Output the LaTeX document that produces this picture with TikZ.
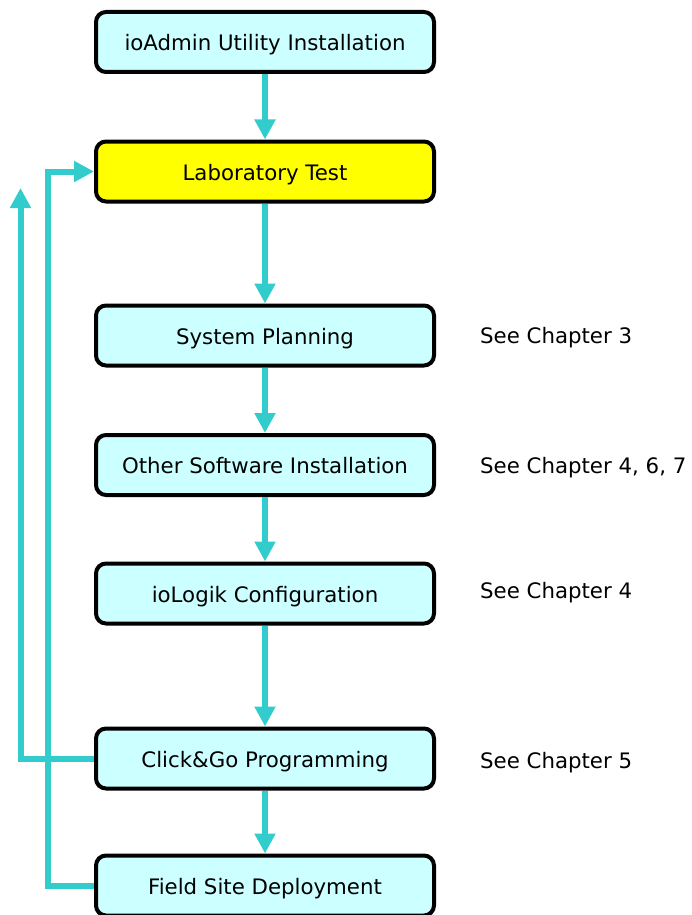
\documentclass[tikz,border=0pt]{standalone}
\usepackage{fontspec}
\setmainfont{DejaVu Sans}
\usetikzlibrary{arrows.meta}
\definecolor{flowcyan}{RGB}{51,204,204}
\definecolor{boxfill}{RGB}{204,255,255}
\definecolor{hiyellow}{RGB}{255,255,0}
\begin{document}
\begin{tikzpicture}[x=1pt,y=-1pt,
  box/.style={draw=black,line width=4pt,rounded corners=10pt,fill=boxfill,
    minimum width=338pt,minimum height=60pt,inner sep=0pt,
    text height=17pt,text depth=0pt,
    font=\fontsize{21.3}{26}\selectfont},
  note/.style={anchor=west,inner sep=0pt,text height=17pt,text depth=0pt,
    font=\fontsize{21.3}{26}\selectfont},
  flow/.style={draw=flowcyan,line width=6pt,
    -{Triangle[width=20pt,length=20pt]}}]
\useasboundingbox (0,0) rectangle (692,915);
\node[box] (b1) at (265,42) {ioAdmin Utility Installation};
\node[box,fill=hiyellow] (b2) at (265,171.5) {Laboratory Test};
\node[box] (b3) at (265,335.5) {System Planning};
\node[box] (b4) at (265,465) {Other Software Installation};
\node[box] (b5) at (265,593.5) {ioLogik Configuration};
\node[box] (b6) at (265,758.5) {Click\&Go Programming};
\node[box] (b7) at (265,885.5) {Field Site Deployment};
\node[note] (n3) at (480,335) {See Chapter 3};
\node[note] (n4) at (480,465) {See Chapter 4, 6, 7};
\node[note] (n5) at (480,589.5) {See Chapter 4};
\node[note] (n6) at (480,760) {See Chapter 5};
\draw[flow] (b1) -- (b2);
\draw[flow] (b2) -- (b3);
\draw[flow] (b3) -- (b4);
\draw[flow] (b4) -- (b5);
\draw[flow] (b5) -- (b6);
\draw[flow] (b6) -- (b7);
\coordinate (up) at (20.5,188);
\coordinate (bend) at (48,0);
\draw[flow] (b6.west) -| (up);
\draw[flow] (b7.west) -| (bend |- b2.west) -- (b2.west);
\end{tikzpicture}
\end{document}
